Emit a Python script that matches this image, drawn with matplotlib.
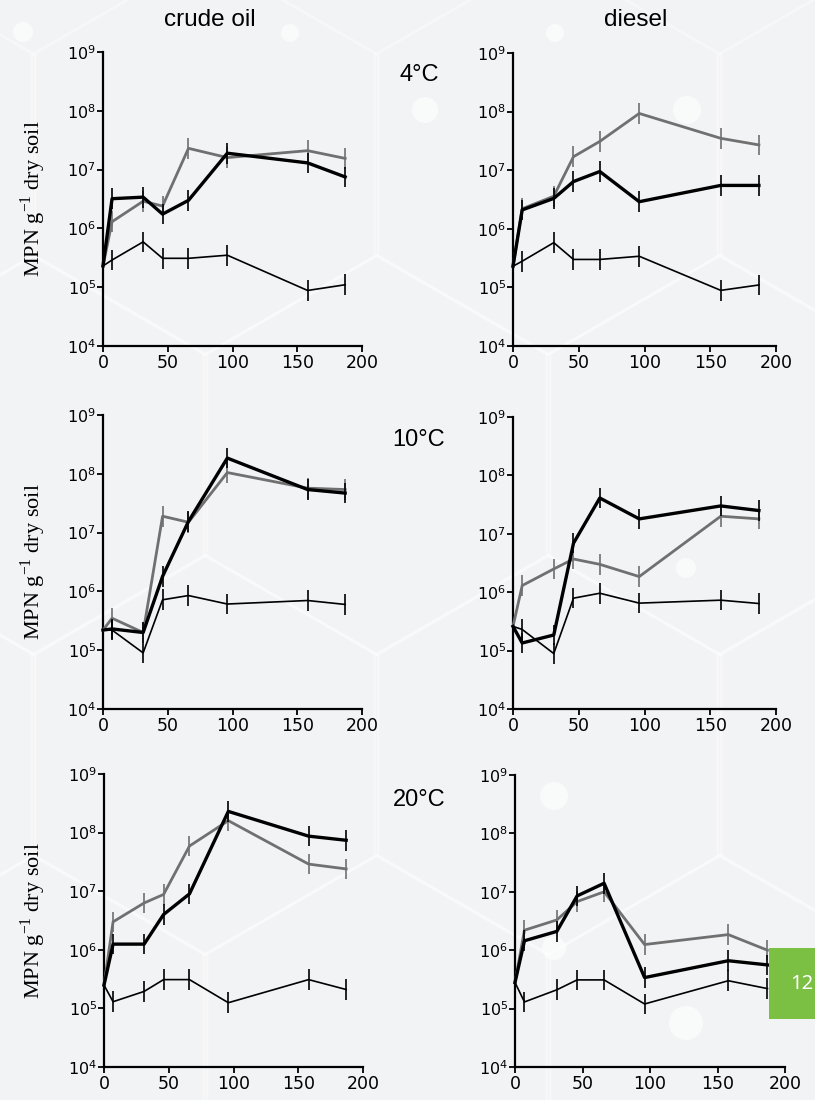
import numpy as np
import matplotlib
matplotlib.use("Agg")
import matplotlib.pyplot as plt
from matplotlib.patches import RegularPolygon, Circle, Rectangle
from matplotlib.transforms import IdentityTransform

# sampling days
days = [0, 7, 31, 46, 66, 96, 158, 187]

# crude oil, 4C
c4_thick = [2.3e5, 3.2e6, 3.4e6, 1.75e6, 3.0e6, 1.9e7, 1.3e7, 7.5e6]
c4_gray = [2.3e5, 1.3e6, 2.9e6, 2.4e6, 2.3e7, 1.6e7, 2.1e7, 1.55e7]
c4_thin = [2.3e5, 2.9e5, 5.9e5, 3.1e5, 3.1e5, 3.5e5, 8.8e4, 1.1e5]
# diesel, 4C
d4_thick = [2.3e5, 2.1e6, 3.3e6, 6.4e6, 9.5e6, 2.9e6, 5.5e6, 5.5e6]
d4_gray = [2.3e5, 2.2e6, 3.6e6, 1.7e7, 3.1e7, 9.3e7, 3.5e7, 2.7e7]
d4_thin = [2.3e5, 2.8e5, 5.8e5, 3.0e5, 3.0e5, 3.4e5, 8.9e4, 1.1e5]
# crude oil, 10C
c10_thick = [2.2e5, 2.3e5, 2.0e5, 1.8e6, 1.55e7, 1.85e8, 5.4e7, 4.7e7]
c10_gray = [2.2e5, 3.5e5, 2.0e5, 1.9e7, 1.5e7, 1.05e8, 5.7e7, 5.4e7]
c10_thin = [2.2e5, 2.2e5, 9.0e4, 7.2e5, 8.5e5, 6.1e5, 7.0e5, 6.0e5]
# diesel, 10C
d10_thick = [2.6e5, 1.35e5, 1.85e5, 6.9e6, 4.1e7, 1.8e7, 3.0e7, 2.5e7]
d10_gray = [2.6e5, 1.3e6, 2.5e6, 3.7e6, 3.0e6, 1.85e6, 2.0e7, 1.8e7]
d10_thin = [2.6e5, 2.3e5, 8.9e4, 7.9e5, 9.6e5, 6.5e5, 7.3e5, 6.4e5]
# crude oil, 20C
c20_thick = [2.5e5, 1.25e6, 1.25e6, 4.0e6, 9.0e6, 2.3e8, 8.7e7, 7.4e7]
c20_gray = [2.5e5, 3.0e6, 6.3e6, 8.8e6, 5.9e7, 1.6e8, 2.9e7, 2.4e7]
c20_thin = [2.5e5, 1.3e5, 1.95e5, 3.1e5, 3.1e5, 1.25e5, 3.1e5, 2.1e5]
# diesel, 20C
d20_thick = [2.8e5, 1.45e6, 2.1e6, 8.5e6, 1.4e7, 3.4e5, 6.6e5, 5.6e5]
d20_gray = [2.8e5, 2.2e6, 3.3e6, 6.8e6, 1.0e7, 1.25e6, 1.85e6, 1.0e6]
d20_thin = [2.8e5, 1.3e5, 2.1e5, 3.1e5, 3.1e5, 1.2e5, 3.0e5, 2.2e5]

col_titles = ["crude oil", "diesel"]
row_titles = ["4°C", "10°C", "20°C"]
err_factor = 1.5

panels = [
    [(c4_thick, c4_gray, c4_thin), (d4_thick, d4_gray, d4_thin)],
    [(c10_thick, c10_gray, c10_thin), (d10_thick, d10_gray, d10_thin)],
    [(c20_thick, c20_gray, c20_thin), (d20_thick, d20_gray, d20_thin)],
]

W, H = 815, 1100
fig = plt.figure(figsize=(W / 100, H / 100), dpi=100)
fig.patch.set_facecolor("#f2f3f5")

# faint hexagon background
ident = IdentityTransform()
for cy, xs in [(155, [-138, 205, 548, 891]), (455, [34, 377, 720]),
               (755, [-138, 205, 548, 891]), (1055, [34, 377, 720])]:
    for cx in xs:
        fig.add_artist(RegularPolygon((cx, H - cy), 6, radius=200, orientation=0,
                                      transform=ident, fill=False, ec="white",
                                      lw=2, alpha=0.4, zorder=-5))
for (cx, cy, r) in [(554, 796, 14), (686, 1023, 17), (554, 948, 12), (686, 568, 10),
                    (290, 33, 9), (555, 33, 9), (687, 110, 14), (425, 110, 13), (23, 32, 10)]:
    fig.add_artist(Circle((cx, H - cy), r, transform=ident, fc="white", ec="none",
                          alpha=0.6, zorder=-4))

# axes boxes in pixels: (x at 0, x at 200, y at 1e9, y at 1e4)
boxes = [
    [(103, 362, 52, 346), (513, 776, 53, 346)],
    [(103, 362, 415, 709), (513, 776, 417, 709)],
    [(104, 363, 774, 1067), (515, 785, 775, 1067)],
]

styles = [("black", 2.4), ("#707070", 2.0), ("black", 1.2)]
draw_order = [1, 2, 0]

for i in range(3):
    for j in range(2):
        x0, x1, yt, yb = boxes[i][j]
        ax = fig.add_axes([x0 / W, 1 - yb / H, (x1 - x0) / W, (yb - yt) / H])
        ax.patch.set_alpha(0)
        ax.set_yscale("log")
        ax.set_xlim(0, 200)
        ax.set_ylim(1e4, 1e9)
        ax.spines["top"].set_visible(False)
        ax.spines["right"].set_visible(False)
        ax.spines["left"].set_linewidth(1.6)
        ax.spines["bottom"].set_linewidth(1.6)
        ax.set_xticks([0, 50, 100, 150, 200])
        ax.set_yticks([1e4, 1e5, 1e6, 1e7, 1e8, 1e9])
        ax.yaxis.set_minor_locator(matplotlib.ticker.NullLocator())
        ax.tick_params(axis="both", length=4, width=1.3, pad=2)
        ax.tick_params(axis="x", labelsize=12.5)
        ax.tick_params(axis="y", labelsize=11.5, pad=1)
        for k in draw_order:
            vals = np.array(panels[i][j][k])
            color, lw = styles[k]
            d = np.array(days)
            ax.plot(d, vals, color=color, lw=lw, clip_on=False, zorder=4 if k == 0 else 3)
            lo = vals[1:] - vals[1:] / err_factor
            hi = vals[1:] * err_factor - vals[1:]
            ax.errorbar(d[1:], vals[1:], yerr=[lo, hi], fmt="none", ecolor=color,
                        elinewidth=1.2, capsize=0, zorder=3)
        if j == 0:
            fig.text(33 / W, 1 - (yt + yb) / 2 / H, r"MPN g$^{\mathregular{-1}}$ dry soil",
                     rotation=90, ha="center", va="center", fontsize=16,
                     family="Liberation Serif")

for name, cx in zip(col_titles, [210, 636]):
    fig.text(cx / W, 1 - 20 / H, name, ha="center", va="center", fontsize=17.5,
             family="Liberation Sans")
for name, cy in zip(row_titles, [75, 440, 800]):
    fig.text(419 / W, 1 - cy / H, name, ha="center", va="center", fontsize=17,
             family="Liberation Sans")

# green page tab
fig.add_artist(Rectangle((769 / W, 1 - 1019 / H), 46 / W, 71 / H, transform=fig.transFigure,
                         fc="#7bc043", ec="none", zorder=10))
fig.text(790 / W, 1 - 984 / H, "12", color="white", ha="left", va="center",
         fontsize=14.5, fontweight="medium", family="Noto Sans", zorder=11)

fig.savefig("out.png", dpi=100, facecolor=fig.get_facecolor())
